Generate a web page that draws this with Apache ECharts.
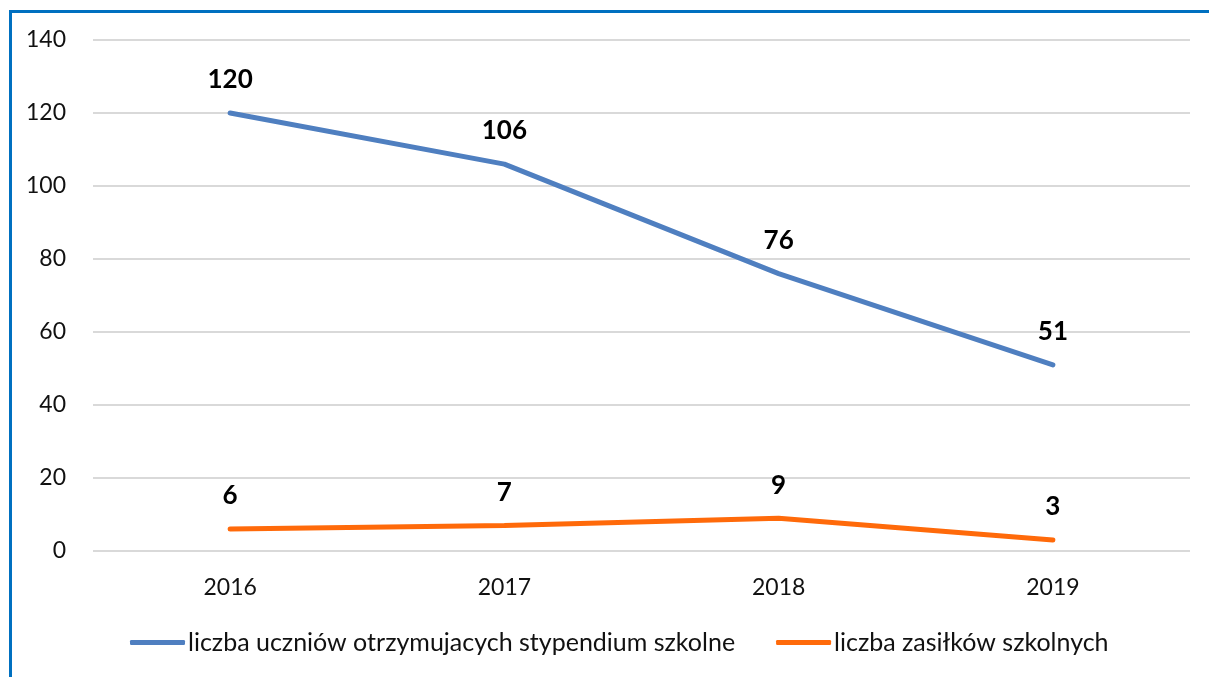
<!DOCTYPE html>
<html>
<head>
<meta charset="utf-8">
<script src="https://cdn.jsdelivr.net/npm/echarts@6/dist/echarts.min.js"></script>
<style>
  html, body { margin: 0; padding: 0; background: #fff; }
  #frame {
    position: absolute; left: 9px; top: 10px; right: 0; bottom: 0;
    border-left: 3px solid #0070c0; border-top: 3px solid #0070c0;
  }
  #chart { position: absolute; left: 0; top: 0; width: 1209px; height: 677px; }
</style>
</head>
<body>
<div id="frame"></div>
<div id="chart"></div>
<script>
  const years = ["2016", "2017", "2018", "2019"];
  const stypendia = [120, 106, 76, 51];
  const zasilki = [6, 7, 9, 3];
  const seriesNames = [
    "liczba uczniów otrzymujacych stypendium szkolne",
    "liczba zasiłków szkolnych",
  ];
  const colors = ["#4f7fc0", "#ff6a0a"];

  const font = "Lato, 'Open Sans', sans-serif";
  const dataLabel = {
    show: true, position: "top", distance: 20,
    fontSize: 26, fontWeight: "bold", color: "#000",
  };
  var myChart = echarts.init(document.getElementById("chart"));
  myChart.setOption({
    animation: false,
    textStyle: { fontFamily: font },
    grid: { left: 93, right: 19, top: 40, bottom: 126, containLabel: false },
    legend: {
      bottom: 17,
      left: 125,
      itemWidth: 55,
      itemHeight: 5,
      itemGap: 41,
      icon: "roundRect",
      textStyle: { fontSize: 25, color: "#111", fontFamily: font, padding: [0, 0, 0, -2] },
      data: seriesNames,
    },
    xAxis: {
      type: "category",
      data: years,
      boundaryGap: true,
      axisLine: { show: false },
      axisTick: { show: false },
      axisLabel: { fontSize: 23, color: "#111", margin: 25 },
    },
    yAxis: {
      type: "value",
      min: 0,
      max: 140,
      interval: 20,
      axisLine: { show: false },
      axisTick: { show: false },
      axisLabel: { fontSize: 23, color: "#111", margin: 27 },
      splitLine: { lineStyle: { color: "#d9d9d9", width: 2 } },
    },
    series: [
      {
        name: seriesNames[0],
        type: "line",
        data: stypendia,
        color: colors[0],
        showSymbol: true,
        symbolSize: 0,
        lineStyle: { width: 5, cap: "round" },
        label: dataLabel,
      },
      {
        name: seriesNames[1],
        type: "line",
        data: zasilki,
        color: colors[1],
        showSymbol: true,
        symbolSize: 0,
        lineStyle: { width: 5, cap: "round" },
        label: dataLabel,
      },
    ],
  });
</script>
</body>
</html>
